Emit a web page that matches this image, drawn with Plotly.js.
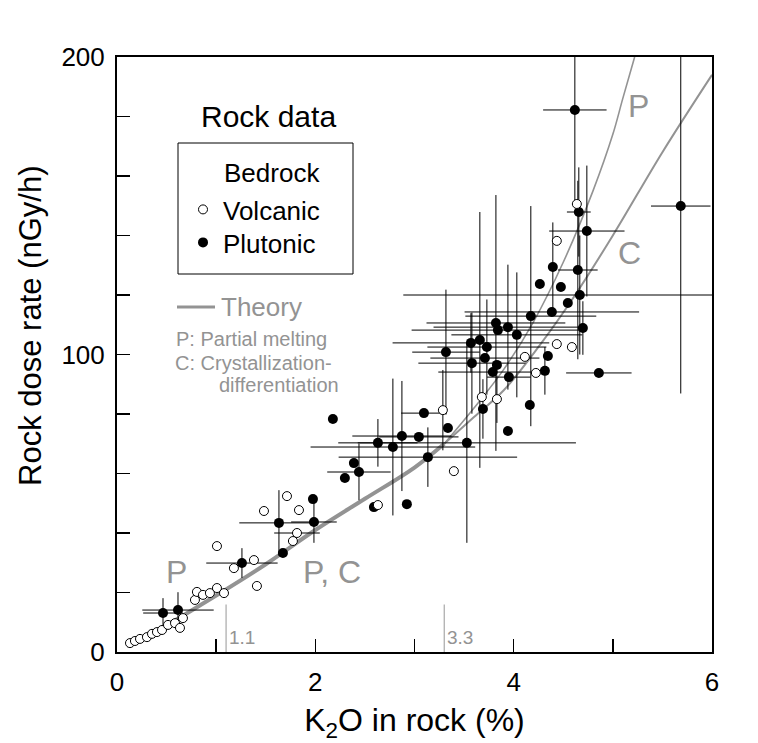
<!DOCTYPE html>
<html>
<head>
<meta charset="utf-8">
<script src="https://cdn.plot.ly/plotly-3.0.1.min.js"></script>
<style>
html,body{margin:0;padding:0;background:#fff;}
#chart{width:758px;height:743px;}
</style>
</head>
<body>
<div id="chart"></div>
<script>
// ---- Volcanic bedrock (open circles) ----
var volX = [0.131,0.181,0.232,0.302,0.353,0.403,0.454,0.514,0.585,0.665,0.635,0.786,0.806,0.867,0.937,1.008,1.079,1.008,1.179,1.381,1.411,1.482,1.714,1.835,1.815,1.774,2.631,3.286,3.397,3.679,3.831,4.113,4.224,4.435,4.587,4.435,4.637];
var volY = [3.0,3.7,4.4,5.0,6.1,6.7,7.4,9.1,9.7,11.4,8.1,17.5,20.2,19.2,19.8,21.5,19.8,35.6,28.2,30.9,22.2,47.4,52.4,47.7,40.0,37.3,49.4,81.3,60.8,85.7,85.0,99.2,93.8,103.5,102.5,138.2,150.6];
var volXErr = [0,0,0,0,0,0,0,0,0,0,0,0,0,0,0,0,0,0,0,0,0,0,0,0,0.23,0,0,0,0,0,0,0,0,0,0,0,0];
var volYErr = [0,0,0,0,0,0,0,0,0,0,0,0,0,0,0,0,0,0,0,0,0,0,0,0,0,0,0,13.5,0,0,8,0,0,0,0,0,0];

// ---- Plutonic bedrock (filled circles) ----
var plutX = [0.464,0.615,1.260,1.633,1.673,1.976,1.986,2.177,2.298,2.389,2.440,2.631,2.782,2.873,2.591,2.923,3.044,3.095,3.135,3.337,3.317,3.528,3.569,3.659,3.730,3.579,3.710,3.831,3.790,3.952,3.690,3.942,3.821,3.942,3.841,4.032,4.173,4.163,4.345,4.315,4.859,4.264,4.476,4.667,4.546,4.385,4.698,4.395,4.647,4.738,4.657,4.617,5.685];
var plutY = [13.1,14.1,29.9,43.4,33.3,51.4,43.7,78.3,58.5,63.5,60.5,70.3,68.9,72.6,48.7,49.7,72.3,80.3,65.5,75.3,100.8,70.3,103.9,104.9,102.5,97.1,98.8,96.5,94.1,92.4,81.7,74.3,110.6,109.2,108.2,106.6,112.9,83.0,99.5,94.5,93.8,123.7,122.7,120.0,117.3,114.3,108.9,129.4,128.4,141.5,147.9,182.2,149.9];
var plutXErr = [0.2,0.36,0.36,0.4,0,0,0.23,0,0,0,0.32,0.4,0.83,0.5,0,0,0.4,0.23,0.9,0,0.34,1.1,0.79,0,0.6,0.54,0.55,0,0.55,0.22,0,0,0.7,0.75,0.87,0.66,0.66,0,0,0,0.33,0,0,1.78,0,0.88,0,0,0.2,0.38,0.12,0.32,0.3];
var plutYErrPlus = [5,6,5,11,0,0,7,0,0,0,9.5,8,23,18.5,0,0,0,0,10,0,21,33.6,10,43,16,17,0,0,0,0,10,0,43,21,0,21,37,0,0,8,0,0,0,20,0,0,9,15,30,22,15,90,90];
var plutYErrMinus = [5,6,5,11,0,0,7,0,0,0,9.5,8,23,18.5,0,0,0,0,10,0,21,33.6,10,43,16,17,0,0,0,0,10,0,43,21,0,21,37,0,0,8,0,0,0,20,0,0,9,15,30,22,15,32,63];

// ---- Theory curves ----
var theoryX = [0.1,0.5,1.0,1.5,2.0,2.5,3.0,3.3];
var theoryY = [2,9,19,29.5,41,51.5,62,70];
var partialX = [3.3,3.6,3.9,4.2,4.5,4.8,5.0,5.1,5.22];
var partialY = [70,82,95,111,131,155,174,186,200];
var crystX = [3.3,3.6,3.9,4.26,4.6,5.0,5.5,6.0];
var crystY = [70,79,88,103,119,140,168,194];

// ---- K2O threshold markers ----
var markX = [1.1, 3.3];
var markLabels = ['1.1', '3.3'];
var markHeight = 16;

// ---- Axis ticks ----
var xTickVals = [0,2,4,6];
var xTickText = ['0','2','4','6'];
var xMinorStep = 1;
var yTickVals = [0,100,200];
var yTickText = ['0','100','200'];
var yMinorStep = 20;

var GRAY = '#939393';
var FONT = 'Liberation Sans, Arial, Helvetica, sans-serif';

var traces = [];
traces.push({x: theoryX, y: theoryY, mode: 'lines', line: {color: GRAY, width: 4, shape: 'spline'}, showlegend: false, hoverinfo: 'skip'});
traces.push({x: partialX, y: partialY, mode: 'lines', line: {color: GRAY, width: 1.6, shape: 'spline'}, showlegend: false, hoverinfo: 'skip'});
traces.push({x: crystX, y: crystY, mode: 'lines', line: {color: GRAY, width: 2, shape: 'spline'}, showlegend: false, hoverinfo: 'skip'});
markX.forEach(function (mx) {
  traces.push({x: [mx, mx], y: [0, markHeight], mode: 'lines', line: {color: '#a8a8a8', width: 1.2}, showlegend: false, hoverinfo: 'skip'});
});
traces.push({
  name: 'Plutonic', x: plutX, y: plutY, mode: 'markers', type: 'scatter', cliponaxis: false,
  legend: 'legend2',
  marker: {symbol: 'circle', size: 10, color: '#000'},
  error_x: {type: 'data', array: plutXErr, color: '#000', thickness: 1, width: 0},
  error_y: {type: 'data', symmetric: false, array: plutYErrPlus, arrayminus: plutYErrMinus, color: '#000', thickness: 1, width: 0}
});
traces.push({
  name: 'Volcanic', x: volX, y: volY, mode: 'markers', type: 'scatter', cliponaxis: false,
  legend: 'legend',
  marker: {symbol: 'circle', size: 9, color: '#fff', line: {color: '#000', width: 1}},
  error_x: {type: 'data', array: volXErr, color: '#000', thickness: 1, width: 0},
  error_y: {type: 'data', array: volYErr, color: '#000', thickness: 1, width: 0}
});

function px2x(p){ return (p - 117) / 595; }
function py2y(p){ return (652 - p) / 595; }

var annotations = [
  {text: 'Rock dose rate (nGy/h)', xref: 'paper', yref: 'paper', x: px2x(31), y: py2y(326), textangle: -90, showarrow: false, xanchor: 'center', yanchor: 'middle', font: {size: 31, color: '#000', family: FONT}},
  {text: 'Rock data', xref: 'paper', yref: 'paper', x: px2x(268), y: py2y(117), showarrow: false, xanchor: 'center', yanchor: 'middle', font: {size: 30, color: '#000', family: FONT}},
  {text: 'Bedrock', xref: 'paper', yref: 'paper', x: px2x(272), y: py2y(173), showarrow: false, xanchor: 'center', yanchor: 'middle', font: {size: 26, color: '#000', family: FONT}},
  {text: 'Theory', xref: 'paper', yref: 'paper', x: px2x(219), y: py2y(307), showarrow: false, xanchor: 'left', yanchor: 'middle', font: {size: 26, color: GRAY, family: FONT}},
  {text: 'P: Partial melting', xref: 'paper', yref: 'paper', x: px2x(174), y: py2y(339), showarrow: false, xanchor: 'left', yanchor: 'middle', font: {size: 20, color: GRAY, family: FONT}},
  {text: 'C: Crystallization-', xref: 'paper', yref: 'paper', x: px2x(173), y: py2y(363), showarrow: false, xanchor: 'left', yanchor: 'middle', font: {size: 20, color: GRAY, family: FONT}},
  {text: 'differentiation', xref: 'paper', yref: 'paper', x: px2x(341), y: py2y(385), showarrow: false, xanchor: 'right', yanchor: 'middle', font: {size: 20, color: GRAY, family: FONT}},
  {text: 'P', xref: 'x', yref: 'y', x: 0.595, y: 26.9, showarrow: false, font: {size: 32, color: GRAY, family: FONT}},
  {text: 'P, C', xref: 'x', yref: 'y', x: 2.167, y: 26.9, showarrow: false, font: {size: 32, color: GRAY, family: FONT}},
  {text: 'P', xref: 'x', yref: 'y', x: 5.26, y: 183.5, showarrow: false, font: {size: 32, color: GRAY, family: FONT}},
  {text: 'C', xref: 'x', yref: 'y', x: 5.17, y: 134.1, showarrow: false, font: {size: 32, color: GRAY, family: FONT}}
];
markX.forEach(function (mx, i) {
  annotations.push({text: markLabels[i], xref: 'x', yref: 'y', x: mx, y: 5, xanchor: 'left', yanchor: 'middle', xshift: 1, showarrow: false, font: {size: 19, color: GRAY, family: FONT}});
});

var legendBase = {xanchor: 'left', yanchor: 'top', bgcolor: 'rgba(0,0,0,0)', borderwidth: 0, font: {size: 26, family: FONT, color: '#000'}};

var layout = {
  width: 758, height: 743,
  margin: {l: 117, r: 46, t: 57, b: 91, pad: 0},
  paper_bgcolor: '#fff', plot_bgcolor: '#fff',
  font: {family: FONT, color: '#000', size: 26},
  showlegend: true,
  legend: Object.assign({x: px2x(183), y: py2y(186)}, legendBase),
  legend2: Object.assign({x: px2x(183), y: py2y(219)}, legendBase),
  xaxis: {
    range: [0, 6], tickmode: 'array', tickvals: xTickVals, ticktext: xTickText,
    ticks: 'inside', ticklen: 13, tickwidth: 1.5, tickcolor: '#000', ticklabelstandoff: 6,
    minor: {dtick: xMinorStep, ticks: 'inside', ticklen: 13, tickwidth: 1.5, tickcolor: '#000', showgrid: false},
    showline: true, linewidth: 2, linecolor: '#000', mirror: true,
    showgrid: false, zeroline: false, tickfont: {size: 26, family: FONT},
    title: {text: 'K<sub>2</sub>O in rock (%)', font: {size: 32, family: FONT}, standoff: 14}
  },
  yaxis: {
    range: [0, 200], tickmode: 'array', tickvals: yTickVals, ticktext: yTickText,
    ticks: 'inside', ticklen: 13, tickwidth: 1.5, tickcolor: '#000', ticklabelstandoff: 5,
    minor: {dtick: yMinorStep, ticks: 'inside', ticklen: 13, tickwidth: 1.5, tickcolor: '#000', showgrid: false},
    showline: true, linewidth: 2, linecolor: '#000', mirror: true,
    showgrid: false, zeroline: false, tickfont: {size: 26, family: FONT}
  },
  shapes: [
    {type: 'rect', xref: 'paper', yref: 'paper', x0: px2x(178), x1: px2x(353), y0: py2y(274), y1: py2y(143), line: {color: '#000', width: 1}, fillcolor: 'rgba(0,0,0,0)'},
    {type: 'line', xref: 'paper', yref: 'paper', x0: px2x(177), x1: px2x(215), y0: py2y(307), y1: py2y(307), line: {color: GRAY, width: 3}}
  ],
  annotations: annotations
};

Plotly.newPlot('chart', traces, layout, {staticPlot: true, displayModeBar: false});
</script>
</body>
</html>
